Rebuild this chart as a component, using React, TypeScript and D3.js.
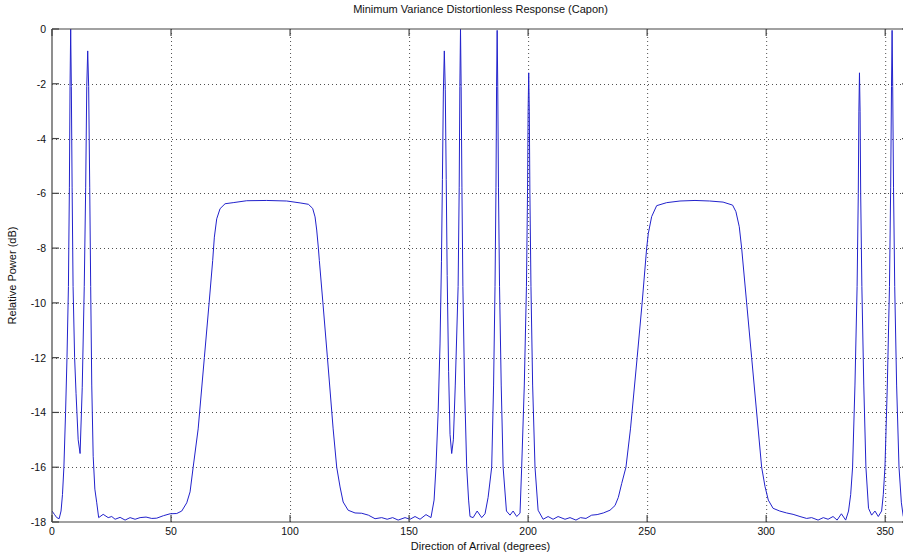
import React from "react";
import * as d3 from "d3";

// MVDR (Capon) spatial spectrum, relative power in dB versus direction of arrival
const angleDeg: number[] = [
  0, 1, 2, 3, 3.8, 4.4, 5.0, 5.7, 6.3, 6.9, 7.3, 7.58, 7.85, 8.12, 8.45, 8.85, 9.5, 10.1, 11.0, 11.8,
  12.7, 13.55, 14.15, 14.6, 15.0, 15.4, 15.85, 16.25, 16.7, 17.3, 18.0, 18.8, 19.6,
  21.5, 23.6, 25.1, 26.5, 28.6, 30.7, 32.8, 34.9, 37.0, 39.5, 41.9, 44.0, 46.8, 49.6, 52.4, 54.5,
  56.6, 58.0, 59.3, 61.4, 64.0, 66.0, 67.5, 68.2, 69.2, 70.6, 72.7, 76.1, 81.8, 90.2, 98.6, 104.2,
  107.7, 109.5, 110.5, 111.2, 111.9, 112.3, 113.8, 115.7, 118.1, 119.6, 121.0, 122.3, 124.4, 127.3,
  130.1, 132.9, 135.7, 138.5, 140.8, 143.1, 145.4, 148.3, 150.4, 152.5, 154.6, 157.1, 159.2,
  160.5, 161.3, 162.2, 163.0, 163.6, 164.0, 164.4, 164.8, 165.2, 165.6, 166.0, 166.6, 167.2, 167.9,
  168.6, 169.4, 170.6, 171.05, 171.33, 171.6, 171.87, 172.2, 172.6, 173.3, 174.2, 175.0, 175.6,
  176.9, 178.6, 180.5, 181.9, 183.2, 184.7, 185.5, 186.1, 186.5, 186.75, 187.0, 187.25, 187.55,
  188.0, 188.7, 189.5, 190.9, 192.4, 193.7, 195.2, 196.6, 197.3, 198.4, 199.3, 199.75, 200.0,
  200.25, 200.5, 200.75, 201.2, 201.9, 202.9, 204.2, 206.3, 208.4, 210.5, 212.6, 215.5, 217.6,
  220.1, 222.0, 224.3, 226.7, 229.0, 231.6, 234.4, 236.5, 237.9, 239.3, 241.1, 243.0, 245.8,
  247.9, 249.8, 250.5, 251.9, 254.0, 258.2, 263.8, 270.1, 276.3, 281.9, 285.9, 287.3, 288.7,
  289.7, 291.8, 293.9, 296.0, 298.1, 299.5, 300.9, 302.9, 305.7, 308.6, 311.3, 314.2, 317.0,
  319.1, 321.8, 324.0, 326.0, 328.1, 329.8, 331.6, 333.4, 334.6, 335.5, 336.3, 337.3, 338.2,
  338.7, 338.95, 339.2, 339.45, 339.7, 340.2, 341.0, 341.9, 343.0, 344.3, 345.7, 347.1, 348.5,
  349.2, 349.9, 350.9, 351.8, 352.3, 352.65, 352.9, 353.15, 353.5, 354.0, 354.8, 355.8, 356.8,
  357.6, 358.6, 360,
];

const powerDb: number[] = [
  -17.6, -17.72, -17.84, -17.88, -17.6, -17.0, -16.0, -14.0, -12.0, -9.4, -5.8, -2.1, 0, -2.1, -5.8, -9.4, -12.0, -13.3, -15.0, -15.5,
  -13.1, -9.4, -5.8, -2.1, -0.8, -2.1, -5.8, -9.4, -13.0, -15.6, -16.8, -17.3, -17.84,
  -17.72, -17.84, -17.8, -17.9, -17.83, -17.93, -17.84, -17.9, -17.84, -17.82, -17.87, -17.86, -17.77, -17.7, -17.69, -17.6,
  -17.3, -16.9, -16.0, -14.6, -12.0, -10.0, -8.45, -7.6, -6.93, -6.56, -6.38, -6.34, -6.27, -6.26, -6.28, -6.35,
  -6.4, -6.55, -6.86, -7.34, -8.0, -8.45, -10.0, -12.0, -14.6, -16.0, -16.72, -17.27, -17.57, -17.67,
  -17.68, -17.75, -17.88, -17.84, -17.9, -17.84, -17.93, -17.84, -17.9, -17.8, -17.9, -17.73, -17.84,
  -17.2, -16.0, -14.0, -11.5, -8.5, -5.5, -2.3, -0.8, -2.2, -5.5, -9.0, -12.5, -14.8, -15.5,
  -15.0, -13.0, -9.4, -5.8, -2.1, 0, -2.1, -5.8, -9.4, -13.0, -16.0, -17.2, -17.8,
  -17.84, -17.6, -17.84, -17.7, -17.1, -16.0, -13.0, -9.4, -5.8, -2.1, -0.05, -2.1, -5.8,
  -9.4, -13.0, -16.0, -17.6, -17.75, -17.6, -17.8, -17.68, -16.0, -13.0, -9.4, -6.0, -3.0,
  -1.6, -3.0, -6.0, -9.4, -13.0, -16.0, -17.57, -17.9, -17.8, -17.9, -17.8, -17.9, -17.84,
  -17.93, -17.84, -17.87, -17.75, -17.73, -17.67, -17.57, -17.4, -17.1, -16.6, -16.0, -14.6, -12.0,
  -10.0, -8.0, -7.46, -6.85, -6.45, -6.34, -6.28, -6.26, -6.28, -6.32, -6.43, -6.67, -7.22,
  -8.0, -10.0, -12.0, -14.0, -16.0, -16.7, -17.2, -17.5, -17.6, -17.67, -17.72, -17.8, -17.87,
  -17.84, -17.93, -17.84, -17.9, -17.8, -17.93, -17.7, -17.93, -17.6, -17.0, -16.0, -13.0, -9.4,
  -6.0, -3.0, -1.6, -3.0, -6.0, -9.4, -13.0, -16.0, -17.5, -17.75, -17.6, -17.8, -17.6,
  -17.0, -16.0, -13.0, -9.4, -5.8, -2.1, -0.05, -2.1, -5.8, -9.4, -13.0, -16.0, -17.3,
  -17.8, -17.85, -17.6,
];

const xTicks: number[] = [0, 50, 100, 150, 200, 250, 300, 350];
const yTicks: number[] = [0, -2, -4, -6, -8, -10, -12, -14, -16, -18];

const titleText = "Minimum Variance Distortionless Response (Capon)";
const xLabelText = "Direction of Arrival (degrees)";
const yLabelText = "Relative Power (dB)";

const W = 903;
const H = 556;
const margin = { left: 52, top: 29, right: -6, bottom: 34 };
const FONT = "'Liberation Sans', Arial, Helvetica, sans-serif";

export default function App() {
  const x0 = margin.left;
  const x1 = W - margin.right;
  const y0 = margin.top;
  const y1 = H - margin.bottom;

  const x = d3.scaleLinear().domain([0, 360]).range([x0, x1]);
  const y = d3.scaleLinear().domain([-18, 0]).range([y1, y0]);

  const points: [number, number][] = angleDeg.map((a, i) => [a, powerDb[i]]);
  const line = d3
    .line<[number, number]>()
    .x((d) => x(d[0]))
    .y((d) => y(d[1]))
    .curve(d3.curveLinear);

  const tickLen = 7;
  const axisColor = "#444";

  return (
    <svg
      width={W}
      height={H}
      viewBox={`0 0 ${W} ${H}`}
      style={{ position: "absolute", left: 0, top: 0, background: "#fff" }}
    >
      <defs>
        <clipPath id="plotArea">
          <rect x={x0} y={y0 - 1} width={x1 - x0} height={y1 - y0 + 2} />
        </clipPath>
      </defs>
      <rect x={0} y={0} width={W} height={H} fill="#fff" />

      {/* dotted grid */}
      <g stroke="#3c3c3c" strokeWidth={0.9} strokeDasharray="1,3">
        {xTicks
          .filter((t) => t > 0)
          .map((t) => (
            <line key={`gx${t}`} x1={x(t) + 0.5} x2={x(t) + 0.5} y1={y0} y2={y1} />
          ))}
        {yTicks
          .filter((t) => t < 0 && t > -18)
          .map((t) => (
            <line key={`gy${t}`} x1={x0} x2={x1} y1={Math.round(y(t)) + 0.5} y2={Math.round(y(t)) + 0.5} />
          ))}
      </g>

      {/* spectrum */}
      <path
        d={line(points) ?? ""}
        fill="none"
        stroke="#2222cc"
        strokeWidth={1}
        strokeLinejoin="round"
        clipPath="url(#plotArea)"
      />

      {/* axes box and ticks */}
      <g stroke={axisColor} strokeWidth={1.2} fill="none">
        <line x1={x0} x2={x1} y1={y0} y2={y0} />
        <line x1={x0} x2={x1} y1={y1} y2={y1} />
        <line x1={x0} x2={x0} y1={y0} y2={y1} />
        <line x1={x1} x2={x1} y1={y0} y2={y1} />
        {xTicks.map((t) => (
          <g key={`tx${t}`}>
            <line x1={x(t)} x2={x(t)} y1={y1} y2={y1 - tickLen} />
            <line x1={x(t)} x2={x(t)} y1={y0} y2={y0 + tickLen} />
          </g>
        ))}
        {yTicks.map((t) => (
          <g key={`ty${t}`}>
            <line x1={x0} x2={x0 + tickLen} y1={y(t)} y2={y(t)} />
            <line x1={x1} x2={x1 - tickLen} y1={y(t)} y2={y(t)} />
          </g>
        ))}
      </g>

      {/* tick labels */}
      <g fontFamily={FONT} fontSize={10.5} fill="#111">
        {xTicks.map((t) => (
          <text key={`lx${t}`} x={x(t)} y={y1 + 13} textAnchor="middle">
            {String(t)}
          </text>
        ))}
        {yTicks.map((t) => (
          <text key={`ly${t}`} x={x0 - 6} y={y(t) + 4} textAnchor="end">
            {String(t)}
          </text>
        ))}
      </g>

      {/* title and axis labels */}
      <text x={(x0 + x1) / 2} y={13} textAnchor="middle" fontFamily={FONT} fontSize={11} fill="#111">
        {titleText}
      </text>
      <text x={(x0 + x1) / 2} y={y1 + 28} textAnchor="middle" fontFamily={FONT} fontSize={11} fill="#111">
        {xLabelText}
      </text>
      <text
        transform={`translate(16, ${(y0 + y1) / 2}) rotate(-90)`}
        textAnchor="middle"
        fontFamily={FONT}
        fontSize={11}
        fill="#111"
      >
        {yLabelText}
      </text>
    </svg>
  );
}
